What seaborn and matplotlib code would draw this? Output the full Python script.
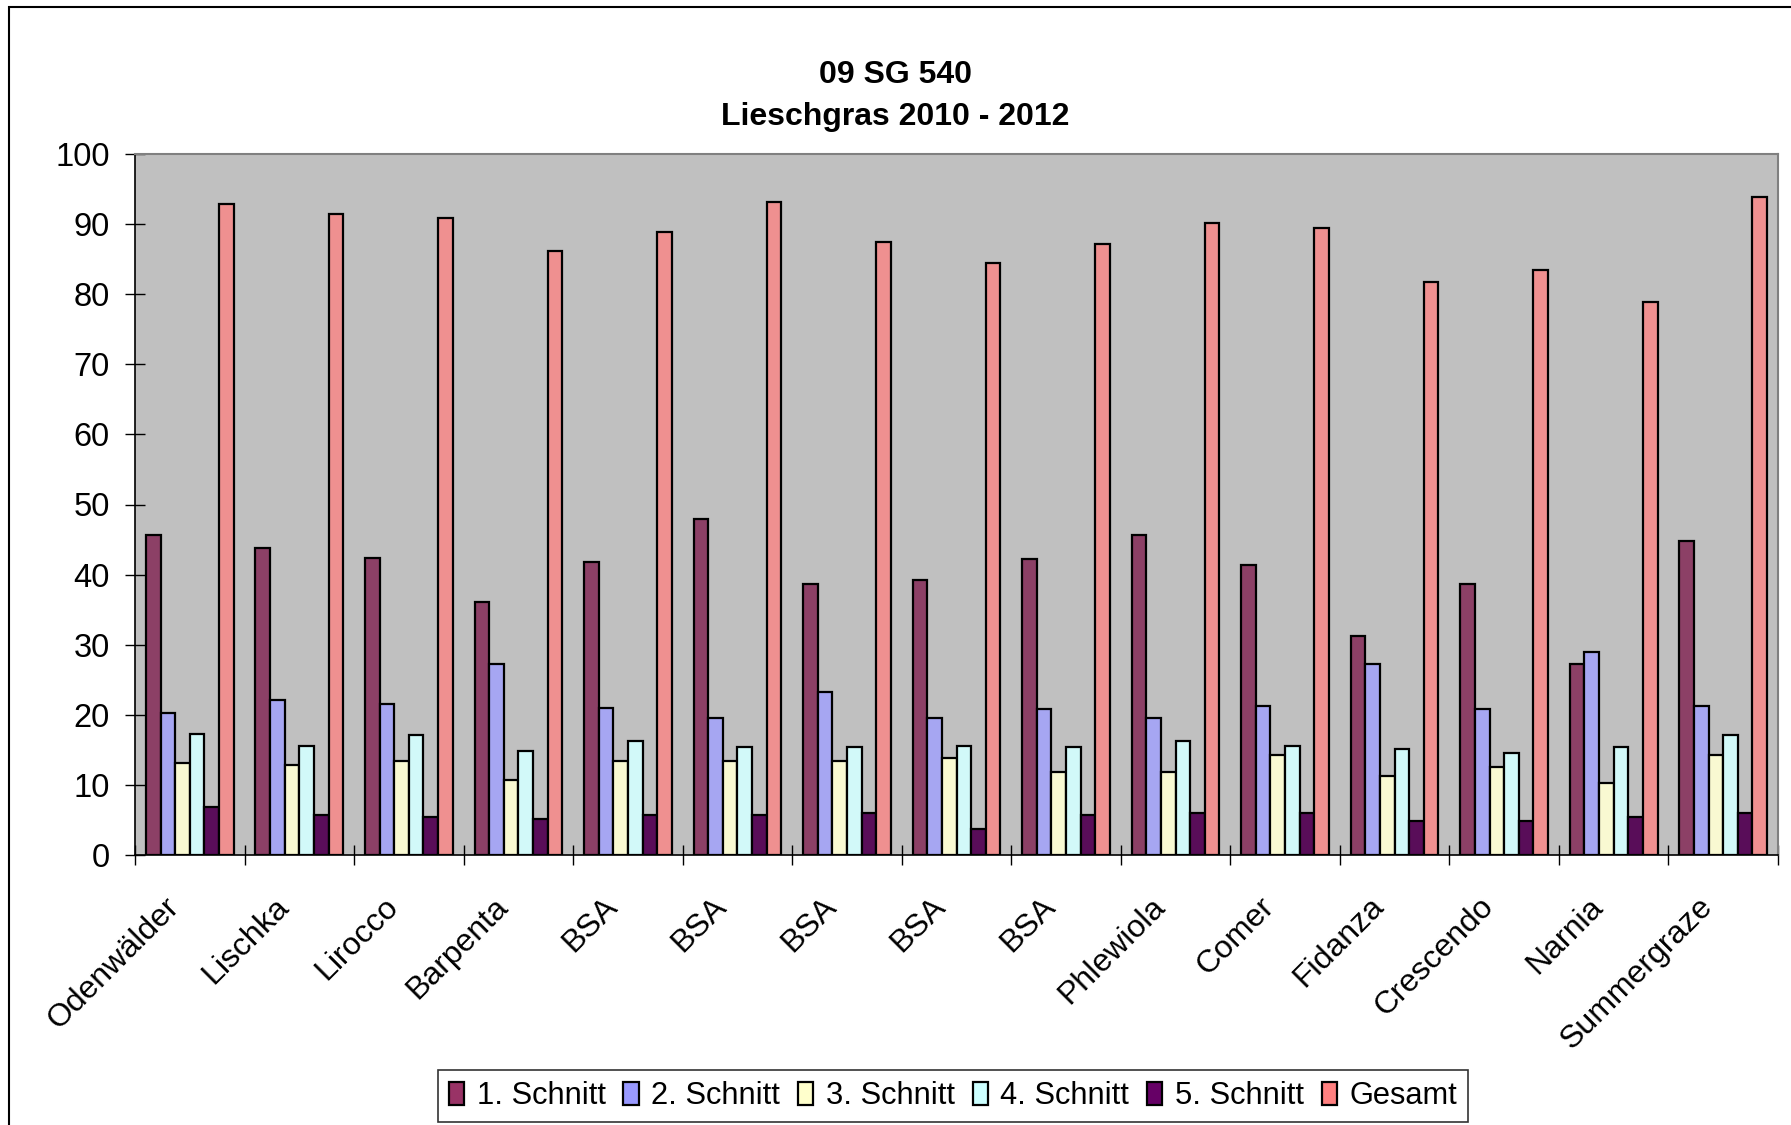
import matplotlib
matplotlib.use("Agg")
import matplotlib.pyplot as plt
from matplotlib.patches import Patch, Rectangle
from matplotlib.ticker import FixedLocator
from matplotlib.transforms import ScaledTranslation
import numpy as np
import pandas as pd
import seaborn as sns

# Sorten (BSA appears several times, so bars are positioned by index)
sorten = ["Odenwälder", "Lischka", "Lirocco", "Barpenta", "BSA", "BSA", "BSA",
          "BSA", "BSA", "Phlewiola", "Comer", "Fidanza", "Crescendo", "Narnia",
          "Summergraze"]

schnitt_1 = [45.6, 43.8, 42.4, 36.1, 41.8, 47.9, 38.7, 39.3, 42.2, 45.6, 41.3, 31.3, 38.7, 27.3, 44.8]
schnitt_2 = [20.2, 22.1, 21.6, 27.3, 21.0, 19.6, 23.3, 19.6, 20.8, 19.6, 21.3, 27.3, 20.8, 29.0, 21.3]
schnitt_3 = [13.1, 12.8, 13.4, 10.7, 13.4, 13.4, 13.4, 13.9, 11.9, 11.9, 14.2, 11.3, 12.5, 10.2, 14.2]
schnitt_4 = [17.3, 15.6, 17.1, 14.8, 16.2, 15.4, 15.4, 15.6, 15.4, 16.2, 15.6, 15.1, 14.5, 15.4, 17.1]
schnitt_5 = [6.8, 5.7, 5.4, 5.1, 5.7, 5.7, 6.0, 3.7, 5.7, 6.0, 6.0, 4.8, 4.8, 5.4, 6.0]
gesamt = [92.9, 91.5, 90.9, 86.1, 88.9, 93.2, 87.5, 84.4, 87.2, 90.1, 89.5, 81.8, 83.5, 78.9, 93.8]

serien = ["1. Schnitt", "2. Schnitt", "3. Schnitt", "4. Schnitt", "5. Schnitt", "Gesamt"]
farben = ["#993366", "#9999FF", "#FFFFCC", "#CCFFFF", "#660066", "#FF8080"]

werte = [schnitt_1, schnitt_2, schnitt_3, schnitt_4, schnitt_5, gesamt]
df = pd.DataFrame({
    "pos": np.tile(np.arange(len(sorten)), len(serien)),
    "serie": np.repeat(serien, len(sorten)),
    "wert": np.concatenate(werte),
})

sns.set_theme(style="white")
plt.rcParams["font.family"] = ["Liberation Sans", "DejaVu Sans"]
plt.rcParams["text.color"] = "black"
plt.rcParams["axes.labelcolor"] = "black"
plt.rcParams["xtick.color"] = "black"
plt.rcParams["ytick.color"] = "black"

W, H = 1791, 1125
fig = plt.figure(figsize=(W / 100, H / 100), dpi=100)
ax = fig.add_axes([135 / W, 1 - 855 / H, (1778 - 135) / W, (855 - 154) / H])
ax.set_facecolor("#C0C0C0")

sns.barplot(data=df, x="pos", y="wert", hue="serie", hue_order=serien,
            order=list(range(len(sorten))), palette=farben, width=0.8,
            edgecolor="black", linewidth=1.6, legend=False, ax=ax)

ax.set_xlim(-0.5, len(sorten) - 0.5)
ax.set_ylim(0, 100)
ax.set_xlabel("")
ax.set_ylabel("")

# y axis
ax.set_yticks(np.arange(0, 101, 10))
ax.tick_params(axis="y", which="major", direction="inout", length=14.4,
               width=1.0, color="black", labelcolor="black", labelsize=23.5,
               pad=11, left=True)

# x axis: labels at category centers, tick marks at category boundaries
ax.set_xticks(np.arange(len(sorten)))
ax.set_xticklabels(sorten, rotation=45, ha="right", va="center",
                   rotation_mode="anchor", fontsize=23)
ax.tick_params(axis="x", which="major", length=0, pad=26, labelcolor="black")
shift = ScaledTranslation(-0.15, -0.11, fig.dpi_scale_trans)
for lbl in ax.get_xticklabels():
    lbl.set_transform(lbl.get_transform() + shift)
ax.xaxis.set_minor_locator(FixedLocator(np.arange(-0.5, len(sorten), 1.0)))
ax.tick_params(axis="x", which="minor", direction="inout", length=14.4,
               width=1.0, color="black", bottom=True)

for side in ["left", "bottom"]:
    ax.spines[side].set_color("black")
    ax.spines[side].set_linewidth(1.2)
for side in ["top", "right"]:
    ax.spines[side].set_visible(True)
    ax.spines[side].set_color("#808080")
    ax.spines[side].set_linewidth(1.5)

# Title
fig.text(0.5, 1 - 96 / H, "09 SG 540\nLieschgras 2010 - 2012", ha="center",
         va="center", fontsize=23, fontweight="bold", linespacing=1.5,
         color="black")

# Legend
handles = [Patch(facecolor=c, edgecolor="black", linewidth=1.6) for c in farben]
leg = fig.legend(handles, serien, loc="center", bbox_to_anchor=(953 / W, 1 - 1096 / H),
                 ncol=6, fontsize=22.2, frameon=True, fancybox=False, shadow=False,
                 handlelength=0.5, handleheight=0.75, handletextpad=0.4,
                 columnspacing=0.58, borderpad=0.35, borderaxespad=0.0)
leg.get_frame().set_edgecolor("black")
leg.get_frame().set_linewidth(1.2)
leg.get_frame().set_facecolor("white")
for t in leg.get_texts():
    t.set_color("black")

# Outer chart frame
fig.add_artist(Rectangle((9 / W, -0.1), 1.2, 1.1 - 7 / H, fill=False,
                         edgecolor="black", linewidth=1.5,
                         transform=fig.transFigure, clip_on=False))

fig.savefig("out.png", dpi=100)
